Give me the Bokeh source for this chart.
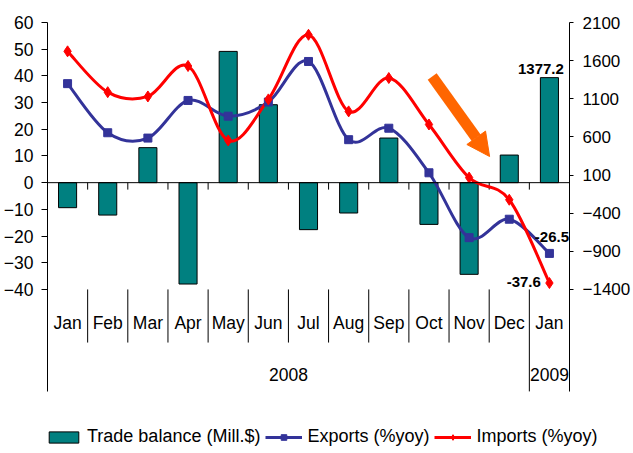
from bokeh.plotting import figure
from bokeh.layouts import column
from bokeh.models import (Range1d, LinearAxis, FixedTicker, Span, Arrow, NormalHead,
                          Legend, LegendItem, ColumnDataSource)
from bokeh.core.properties import value
from bokeh.embed import file_html
from bokeh.resources import INLINE

# ---------------- data ----------------
months = ["Jan", "Feb", "Mar", "Apr", "May", "Jun", "Jul", "Aug", "Sep", "Oct", "Nov", "Dec", "Jan"]
years = ["2008", "2009"]
year_counts = [12, 1]
trade_balance = [-328, -425, 459, -1329, 1721, 1022, -616, -398, 585, -547, -1202, 362, 1377.2]
exports = [37.1, 18.7, 16.7, 30.8, 24.9, 30.2, 45.4, 16.1, 20.4, 3.7, -20.6, -13.7, -26.5]
imports = [49.2, 33.9, 32.3, 43.7, 15.8, 31.2, 55.4, 26.7, 39.2, 21.8, 1.9, -6.4, -37.6]
left_ticks = list(range(-40, 61, 10))
right_ticks = list(range(-1400, 2101, 500))
legend_labels = ["Trade balance (Mill.$)", "Exports (%yoy)", "Imports (%yoy)"]

# ---------------- style ----------------
FONT = "Liberation Sans"
TEAL = "#008080"
BLUE = "#333399"
RED = "#FF0000"
ORANGE = "#FF6600"
RATIO = 35.0          # right axis units per left axis unit
Y_TOP = 60
Y_START = -89.1       # frame bottom (room for category labels)
AXIS_BOTTOM = -78.2
SEP_TOP = -40
SEP_BOTTOM = -59.9
MONTH_Y = -52.7
YEAR_Y = -71.8
TICK_LEN = 2.6

n = len(months)
xs = [i + 0.5 for i in range(n)]

p = figure(width=633, height=420, output_backend="svg", toolbar_location=None,
           x_range=Range1d(0, n), y_range=Range1d(Y_START, Y_TOP),
           x_axis_location=None, min_border_left=47, min_border_right=57,
           min_border_top=22, min_border_bottom=0)
p.outline_line_color = None
p.grid.visible = False
p.frame_align = False

p.extra_y_ranges = {"r": Range1d(Y_START * RATIO, Y_TOP * RATIO)}

ya = p.yaxis[0]
ya.ticker = FixedTicker(ticks=left_ticks)
ya.bounds = (AXIS_BOTTOM, Y_TOP)
ra = LinearAxis(y_range_name="r", ticker=FixedTicker(ticks=right_ticks),
                bounds=(AXIS_BOTTOM * RATIO, Y_TOP * RATIO))
p.add_layout(ra, "right")
for ax, tout, stand, fs in [(ya, 6, 8, "17.5px"), (ra, 4, 9, "17px")]:
    ax.major_tick_in = 0
    ax.major_tick_out = tout
    ax.minor_tick_in = 0
    ax.minor_tick_out = 0
    ax.major_label_standoff = stand
    ax.axis_line_color = "black"
    ax.major_tick_line_color = "black"
    ax.major_label_text_font = FONT
    ax.major_label_text_font_size = fs
    ax.major_label_text_color = "black"

# bars
bars = p.vbar(x=xs, top=trade_balance, bottom=0, width=0.45, y_range_name="r",
              fill_color=TEAL, line_color="black", line_width=1)

# zero line with tick marks
p.add_layout(Span(location=0, dimension="width", line_color="black", line_width=1))
inner = list(range(1, n))
p.segment(x0=inner, y0=[0] * len(inner), x1=inner, y1=[-TICK_LEN] * len(inner),
          line_color="black", line_width=1)

# category separators
bounds_years = []
acc = 0
for c in year_counts:
    acc += c
    bounds_years.append(acc)
sep_bottom = [AXIS_BOTTOM if b in bounds_years else SEP_BOTTOM for b in inner]
p.segment(x0=inner, y0=[SEP_TOP] * len(inner), x1=inner, y1=sep_bottom,
          line_color="black", line_width=1)

# month / year labels
p.text(x=xs, y=[MONTH_Y] * n, text=months, text_font=value(FONT), text_font_size="17.5px",
       text_align="center", text_baseline="middle", text_color="black")
year_x = []
acc = 0
for c in year_counts:
    year_x.append(acc + c / 2)
    acc += c
p.text(x=year_x, y=[YEAR_Y] * len(years), text=years, text_font=value(FONT),
       text_font_size="17.5px", text_align="center", text_baseline="middle", text_color="black")


def smooth(ys):
    pts = list(zip(xs, ys))
    d = dict(x0=[], y0=[], x1=[], y1=[], cx0=[], cy0=[], cx1=[], cy1=[])
    for i in range(len(pts) - 1):
        p0 = pts[i - 1] if i > 0 else pts[i]
        p1 = pts[i]
        p2 = pts[i + 1]
        p3 = pts[i + 2] if i + 2 < len(pts) else pts[i + 1]
        d["x0"].append(p1[0]); d["y0"].append(p1[1])
        d["x1"].append(p2[0]); d["y1"].append(p2[1])
        d["cx0"].append(p1[0] + (p2[0] - p0[0]) / 6); d["cy0"].append(p1[1] + (p2[1] - p0[1]) / 6)
        d["cx1"].append(p2[0] - (p3[0] - p1[0]) / 6); d["cy1"].append(p2[1] - (p3[1] - p1[1]) / 6)
    return ColumnDataSource(d)


p.bezier(x0="x0", y0="y0", x1="x1", y1="y1", cx0="cx0", cy0="cy0",
         cx1="cx1", cy1="cy1", source=smooth(exports), line_color=BLUE, line_width=3)
p.bezier(x0="x0", y0="y0", x1="x1", y1="y1", cx0="cx0", cy0="cy0",
         cx1="cx1", cy1="cy1", source=smooth(imports), line_color=RED, line_width=3)
p.scatter(x=xs, y=exports, marker="square", size=8, fill_color=BLUE, line_color=BLUE)
p.scatter(x=xs, y=imports, marker="diamond", size=11, fill_color=RED, line_color=RED)

# data labels for the last month
p.text(x=[xs[-1]], y=[trade_balance[-1]], text=[f"{trade_balance[-1]:.1f}"], y_range_name="r",
       x_offset=-8.5, y_offset=-9, text_font=value(FONT), text_font_size="15px",
       text_font_style="bold", text_align="center", text_baseline="alphabetic", text_color="black")
p.text(x=[xs[-1]], y=[exports[-1]], text=[f"{exports[-1]:.1f}"],
       x_offset=2.5, y_offset=-16, text_font=value(FONT), text_font_size="15px",
       text_font_style="bold", text_align="center", text_baseline="middle", text_color="black")
p.text(x=[xs[-1]], y=[imports[-1]], text=[f"{imports[-1]:.1f}"],
       x_offset=-8.6, y_offset=-1.5, text_font=value(FONT), text_font_size="15px",
       text_font_style="bold", text_align="right", text_baseline="middle", text_color="black")

# trend arrow
p.add_layout(Arrow(end=NormalHead(size=23, fill_color=ORANGE, line_color=ORANGE),
                   x_start=9.58, y_start=39.8, x_end=11.01, y_end=9.8,
                   line_width=11, line_color=ORANGE))

# ---------------- legend strip ----------------
# hidden copies of the series only supply the legend swatches
lg = figure(width=633, height=33, output_backend="svg", toolbar_location=None,
            x_range=Range1d(0, n), y_range=Range1d(Y_START, Y_TOP),
            x_axis_location=None, y_axis_location=None,
            min_border_left=0, min_border_right=0, min_border_top=0, min_border_bottom=0)
lg.outline_line_color = None
lg.grid.visible = False
lg.frame_align = False
r_bar = lg.vbar(x=xs, top=trade_balance, bottom=0, width=0.45,
                fill_color=TEAL, line_color="black", line_width=1, visible=False)
r_el = lg.line(x=xs, y=exports, line_color=BLUE, line_width=3, visible=False)
r_ep = lg.scatter(x=xs, y=exports, marker="square", fill_color=BLUE, line_color=BLUE, visible=False)
r_il = lg.line(x=xs, y=imports, line_color=RED, line_width=3, visible=False)
r_ip = lg.scatter(x=xs, y=imports, marker="diamond", fill_color=RED, line_color=RED, visible=False)

legend = Legend(items=[
    LegendItem(label=legend_labels[0], renderers=[r_bar]),
    LegendItem(label=legend_labels[1], renderers=[r_el, r_ep]),
    LegendItem(label=legend_labels[2], renderers=[r_il, r_ip]),
], orientation="horizontal", location=(45, 6), glyph_width=37, glyph_height=14,
    label_standoff=5, spacing=5, padding=0, margin=0, border_line_alpha=0,
    background_fill_alpha=0, label_text_font=FONT, label_text_font_size="18px",
    label_text_color="black", click_policy="none")
lg.add_layout(legend)

layout = column(p, lg, spacing=0)
open("out.html", "w").write(file_html(layout, INLINE))
